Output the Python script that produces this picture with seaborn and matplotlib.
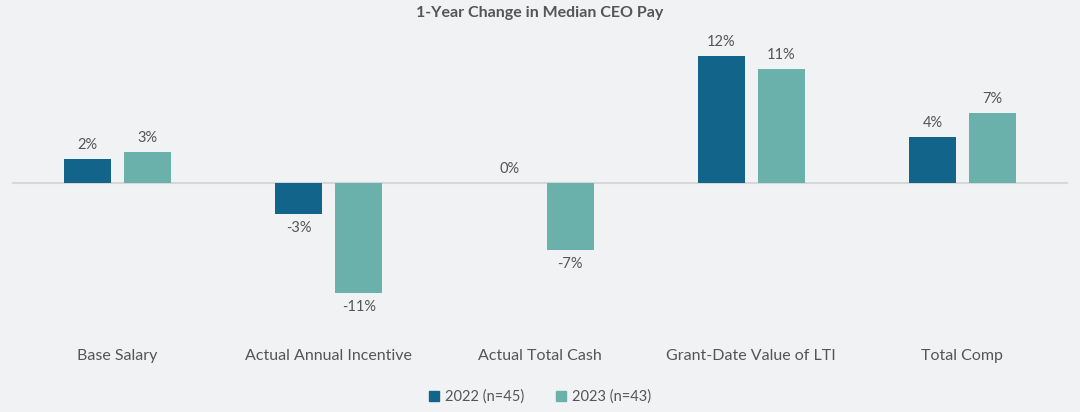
import pandas as pd
import seaborn as sns
import matplotlib.pyplot as plt

# Data
categories = ["Base Salary", "Actual Annual Incentive", "Actual Total Cash",
              "Grant-Date Value of LTI", "Total Comp"]
series_names = ["2022 (n=45)", "2023 (n=43)"]
values_2022 = [2.28, -3.08, 0.0, 12.33, 4.46]
values_2023 = [3.0, -10.73, -6.57, 11.09, 6.83]

df = pd.DataFrame({
    "Category": categories * 2,
    "Series": [series_names[0]] * 5 + [series_names[1]] * 5,
    "Change": values_2022 + values_2023,
})

bg = "#f1f2f4"
text_col = "#555555"
palette = {series_names[0]: "#13648b", series_names[1]: "#6bb1ab"}

sns.set_theme(style="white")
plt.rcParams["font.family"] = ["Lato", "DejaVu Sans"]

fig = plt.figure(figsize=(10.8, 4.12), dpi=100, facecolor=bg)
ax = fig.add_axes([0.011, 0.199, 0.978, 0.728], facecolor=bg)

sns.barplot(data=df, x="Category", y="Change", hue="Series", order=categories,
            hue_order=series_names, palette=palette, width=0.57, gap=0.22,
            saturation=1, linewidth=0, ax=ax, legend=False)

ax.axhline(0, color="#d6d7da", lw=1.5, zorder=0)
ax.set_xlim(-0.5, 4.5)
ax.set_ylim(-14.37, 14.9)

for cont in ax.containers:
    ax.bar_label(cont, labels=[f"{round(v.get_height()):.0f}%" for v in cont],
                 padding=5, fontsize=10.5, color=text_col)

ax.set_xlabel("")
ax.set_ylabel("")
ax.set_yticks([])
ax.tick_params(axis="x", length=0, pad=14, labelsize=11.5, labelcolor=text_col)
sns.despine(ax=ax, left=True, bottom=True)

fig.suptitle("1-Year Change in Median CEO Pay", y=0.985, fontsize=11.5,
             fontweight="bold", color=text_col)

handles = [plt.Rectangle((0, 0), 1, 1, color=palette[s]) for s in series_names]
fig.legend(handles, series_names, loc="center", bbox_to_anchor=(0.5, 0.037),
           ncol=2, frameon=False, fontsize=10.5, handlelength=0.7, handleheight=0.7,
           handletextpad=0.4, columnspacing=2.2, labelcolor=text_col)

fig.savefig("out.png", dpi=100, facecolor=bg)
